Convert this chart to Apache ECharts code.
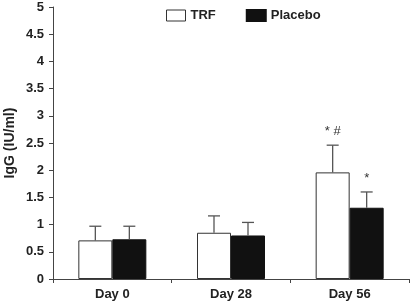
<!DOCTYPE html>
<html><head><meta charset="utf-8">
<script src="https://cdn.jsdelivr.net/npm/echarts@6/dist/echarts.min.js"></script>
<style>html,body{margin:0;padding:0;background:#fff}#c{width:410px;height:302px}</style>
</head><body><div id="c"></div>
<script>
const categories = ['Day 0', 'Day 28', 'Day 56'];
const trf = [0.71, 0.85, 1.96];
const placebo = [0.73, 0.80, 1.31];
const trfSE = [0.26, 0.31, 0.50];
const placeboSE = [0.24, 0.24, 0.29];
const trfMarks = ['', '', '* #'];
const placeboMarks = ['', '', '*'];
const yTicks = [0, 0.5, 1, 1.5, 2, 2.5, 3, 3.5, 4, 4.5, 5];

const FONT = '"Liberation Sans", Arial, sans-serif';
const BAR_W = 34;

function errSeries(name, vals, se, marks, offset) {
  return {
    type: 'custom',
    name: name + ' err',
    z: 5,
    data: vals.map((v, i) => [i, v, se[i]]),
    renderItem: function (params, api) {
      const i = api.value(0), v = api.value(1), e = api.value(2);
      const mark = marks[params.dataIndex];
      const base = api.coord([i, v]);
      const top = api.coord([i, v + e]);
      const x = base[0] + offset;
      const cap = 6;
      const children = [
        {type: 'line', shape: {x1: x, y1: base[1], x2: x, y2: top[1]}, style: {stroke: '#555', lineWidth: 1.3}},
        {type: 'line', shape: {x1: x - cap, y1: top[1], x2: x + cap, y2: top[1]}, style: {stroke: '#555', lineWidth: 1.3}}
      ];
      if (mark) {
        children.push({type: 'text', style: {text: mark, x: x, y: top[1] - 7, align: 'center', verticalAlign: 'bottom', font: '13px ' + FONT, fill: '#333'}});
      }
      return {type: 'group', children: children};
    }
  };
}

const chart = echarts.init(document.getElementById('c'), null, {renderer: 'canvas'});
chart.setOption({
  animation: false,
  backgroundColor: '#fff',
  grid: {left: 53, right: 1, top: 7, bottom: 23, containLabel: false, outerBoundsMode: 'none'},
  legend: {
    left: 161, top: 4, itemWidth: 19, itemHeight: 11, itemGap: 30,
    icon: 'rect',
    textStyle: {fontFamily: FONT, fontWeight: 'bold', fontSize: 13, color: '#222'},
    data: [
      {name: 'TRF', itemStyle: {color: '#fff', borderColor: '#333', borderWidth: 1}},
      {name: 'Placebo', itemStyle: {color: '#111'}}
    ]
  },
  xAxis: {
    type: 'category', data: categories,
    axisLine: {lineStyle: {color: '#444', width: 1}},
    axisTick: {show: true, length: 4, lineStyle: {color: '#444'}},
    axisLabel: {fontFamily: FONT, fontWeight: 'bold', fontSize: 13, color: '#222', margin: 9}
  },
  yAxis: {
    type: 'value', min: 0, max: 5, interval: 0.5,
    name: 'IgG (IU/ml)', nameLocation: 'middle', nameGap: 36, nameRotate: 90,
    nameMoveOverlap: false,
    nameTextStyle: {fontFamily: FONT, fontWeight: 'bold', fontSize: 14, color: '#222'},
    axisLine: {show: true, lineStyle: {color: '#444', width: 1}},
    axisTick: {show: true, length: 4, lineStyle: {color: '#444'}},
    splitLine: {show: false},
    axisLabel: {fontFamily: FONT, fontWeight: 'bold', fontSize: 13, color: '#222', margin: 9,
      formatter: v => yTicks.includes(v) ? String(v) : ''}
  },
  series: [
    {name: 'TRF', type: 'bar', data: trf, barWidth: BAR_W, barGap: '0%',
      itemStyle: {color: '#fff', borderColor: '#333', borderWidth: 1}},
    {name: 'Placebo', type: 'bar', data: placebo, barWidth: BAR_W, barGap: '0%',
      itemStyle: {color: '#111', borderColor: '#111', borderWidth: 1}},
    errSeries('TRF', trf, trfSE, trfMarks, -BAR_W / 2),
    errSeries('Placebo', placebo, placeboSE, placeboMarks, BAR_W / 2)
  ]
});
</script></body></html>
